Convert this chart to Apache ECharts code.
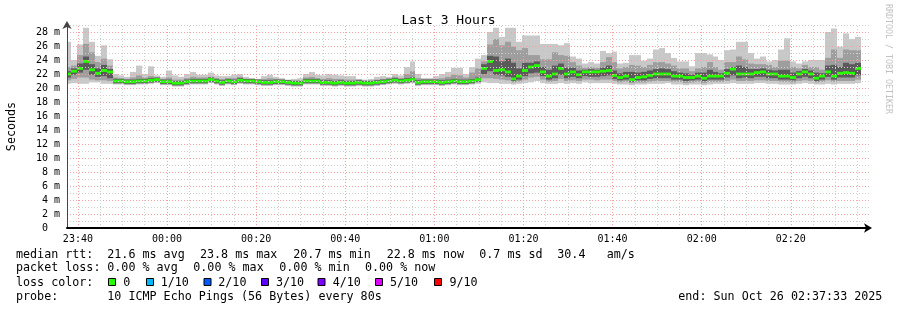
<!DOCTYPE html>
<html><head><meta charset="utf-8">
<script src="https://cdn.jsdelivr.net/npm/echarts@6/dist/echarts.min.js"></script>
<style>html,body{margin:0;padding:0;background:#fff}#c{width:897px;height:310px}</style>
</head><body><div id="c"></div>
<script>
// ---- time layout (seconds since window start 23:37:33) ----
const windowSpan = 10800;
const sampleStep = 80;
const firstSample = 13;
const tickTimes = [147,1347,2547,3747,4947,6147,7347,8547,9747];
const tickLabels = ['23:40','00:00','00:20','00:40','01:00','01:20','01:40','02:00','02:20'];
const minorGridStep = 300;

// ---- median rtt per sample (ms) ----
const median = [22.0,22.4,22.8,23.8,22.6,22.1,22.5,22.3,21.0,21.0,
 20.9,20.9,21.0,21.0,21.1,21.2,20.9,20.9,20.7,20.7,
 20.9,21.0,21.0,21.0,21.2,21.0,20.8,21.0,20.9,21.1,
 21.0,21.0,20.9,20.8,20.8,20.9,20.9,20.8,20.7,20.7,
 21.0,21.0,21.0,20.8,20.8,20.7,20.8,20.7,20.7,20.8,
 20.7,20.7,20.8,20.9,21.0,21.1,21.0,21.1,21.2,20.8,
 20.9,20.9,20.9,20.8,20.9,21.0,20.9,20.9,21.0,21.2,
 22.8,23.8,22.5,22.6,22.3,21.3,21.7,22.5,23.0,23.2,
 22.3,21.7,22.0,22.8,22.0,22.3,21.9,22.3,22.3,22.3,
 22.4,22.5,21.8,21.5,21.7,21.2,21.5,21.6,21.8,22.0,
 22.0,22.0,21.7,21.7,21.5,21.5,21.7,21.4,21.7,21.7,
 21.7,22.1,22.7,22.0,22.0,22.0,22.2,22.3,22.0,22.0,
 21.7,21.7,21.5,22.0,22.3,22.0,21.4,21.7,22.3,21.7,
 22.1,22.2,22.1,22.8];
// ---- smoke: sorted ping percentiles per sample (ms) ----
const pMin = [20.6,20.7,20.6,20.6,20.8,20.8,20.6,20.6,20.5,20.5,
 20.4,20.4,20.5,20.5,20.6,20.7,20.4,20.4,20.2,20.2,
 20.4,20.5,20.5,20.5,20.7,20.5,20.3,20.5,20.4,20.6,
 20.5,20.5,20.4,20.3,20.3,20.4,20.4,20.3,20.2,20.2,
 20.5,20.5,20.5,20.3,20.3,20.2,20.3,20.2,20.2,20.3,
 20.2,20.2,20.3,20.4,20.5,20.6,20.5,20.6,20.7,20.3,
 20.4,20.4,20.4,20.3,20.4,20.5,20.4,20.4,20.5,20.6,
 20.8,20.7,20.7,20.6,20.6,20.5,20.6,20.7,20.8,21.0,
 20.7,20.6,20.6,20.7,20.6,20.7,20.6,20.8,20.7,20.7,
 20.7,20.7,20.6,20.5,20.5,20.4,20.5,20.5,20.6,20.6,
 20.6,20.7,20.5,20.5,20.4,20.5,20.5,20.4,20.5,20.6,
 20.6,20.6,20.7,20.6,20.6,20.6,20.7,20.7,20.6,20.6,
 20.5,20.5,20.5,20.6,20.7,20.6,20.5,20.5,20.6,20.5,
 20.6,20.6,20.6,20.7];
const pLo = [21.1,21.3,21.5,21.5,21.2,21.1,21.1,21.0,20.6,20.6,
 20.5,20.5,20.6,20.6,20.7,20.8,20.5,20.5,20.3,20.3,
 20.5,20.6,20.6,20.6,20.8,20.6,20.4,20.6,20.5,20.7,
 20.6,20.6,20.5,20.4,20.4,20.5,20.5,20.4,20.3,20.3,
 20.6,20.6,20.6,20.4,20.4,20.3,20.4,20.3,20.3,20.4,
 20.3,20.3,20.4,20.5,20.6,20.7,20.6,20.7,20.8,20.4,
 20.5,20.5,20.5,20.4,20.5,20.6,20.5,20.5,20.6,20.8,
 21.4,21.4,21.3,21.2,21.1,20.8,20.9,21.2,21.5,21.6,
 21.2,20.9,21.0,21.3,21.0,21.1,21.0,21.2,21.2,21.1,
 21.2,21.2,21.0,20.8,20.9,20.7,20.8,20.8,20.9,21.0,
 21.0,21.0,20.9,20.9,20.7,20.8,20.9,20.7,20.9,20.9,
 20.9,21.0,21.2,21.0,21.0,21.0,21.1,21.1,21.0,21.0,
 20.9,20.9,20.8,21.0,21.1,21.0,20.8,20.9,21.1,20.9,
 21.0,21.0,21.0,21.2];
const pDarkLo = [21.5,21.9,22.2,22.6,21.9,21.6,21.7,21.4,20.7,20.7,
 20.6,20.6,20.7,20.7,20.8,20.9,20.6,20.6,20.4,20.4,
 20.6,20.7,20.7,20.7,20.9,20.7,20.5,20.7,20.6,20.8,
 20.7,20.7,20.6,20.5,20.5,20.6,20.6,20.5,20.4,20.4,
 20.7,20.7,20.7,20.5,20.5,20.4,20.5,20.4,20.4,20.5,
 20.4,20.4,20.5,20.6,20.7,20.8,20.7,20.8,20.9,20.5,
 20.6,20.6,20.6,20.5,20.6,20.7,20.6,20.6,20.7,20.9,
 22.0,22.4,21.9,21.8,21.6,21.0,21.2,21.7,22.1,22.2,
 21.7,21.2,21.4,21.9,21.4,21.6,21.4,21.7,21.6,21.6,
 21.7,21.8,21.3,21.1,21.2,20.9,21.1,21.1,21.3,21.4,
 21.4,21.4,21.2,21.2,21.0,21.1,21.2,21.0,21.2,21.2,
 21.2,21.5,21.8,21.4,21.5,21.4,21.6,21.6,21.4,21.4,
 21.2,21.2,21.1,21.4,21.6,21.4,21.0,21.2,21.6,21.2,
 21.5,21.5,21.5,21.8];
const pDarkHi = [22.4,22.8,23.5,24.5,23.4,22.8,23.3,22.7,21.3,21.3,
 21.2,21.2,21.3,21.3,21.4,21.5,21.2,21.2,21.0,21.0,
 21.2,21.3,21.3,21.3,21.5,21.3,21.1,21.3,21.2,21.4,
 21.3,21.3,21.2,21.1,21.1,21.2,21.2,21.1,21.0,21.0,
 21.3,21.3,21.3,21.1,21.1,21.0,21.1,21.0,21.0,21.1,
 21.0,21.0,21.1,21.2,21.3,21.4,21.3,21.4,21.5,21.1,
 21.2,21.2,21.2,21.1,21.2,21.3,21.2,21.2,21.3,21.5,
 23.4,24.6,24.5,23.8,24.2,23.6,22.8,23.6,23.6,23.8,
 23.0,22.6,23.2,23.5,22.9,22.9,22.5,22.6,22.7,22.6,
 22.9,23.2,22.5,22.1,22.3,22.3,22.2,22.3,22.5,22.7,
 22.8,22.7,22.4,22.2,22.1,21.9,22.2,22.2,22.6,22.3,
 22.1,22.7,23.0,23.2,23.0,22.7,22.7,22.8,22.6,22.5,
 22.6,22.6,22.2,22.4,22.7,22.5,22.2,22.1,23.2,23.3,
 23.0,23.6,23.4,23.6];
const pHi = [23.0,23.2,24.7,26.3,25.1,23.7,24.2,23.2,21.5,21.4,
 21.3,21.5,21.8,21.5,21.7,21.5,21.3,21.5,21.2,21.2,
 21.4,21.6,21.5,21.5,21.6,21.4,21.3,21.4,21.4,21.6,
 21.3,21.3,21.25,21.3,21.4,21.3,21.2,21.15,21.1,21.1,
 21.5,21.6,21.4,21.3,21.4,21.3,21.3,21.2,21.2,21.2,
 21.1,21.1,21.2,21.3,21.4,21.6,21.4,22.0,22.4,21.4,
 21.3,21.3,21.3,21.4,21.6,21.9,21.8,21.5,22.2,22.8,
 23.8,26.2,27.0,26.1,26.6,25.9,25.4,25.7,24.7,24.7,
 24.1,24.1,25.1,24.7,24.6,23.7,23.2,22.9,23.0,22.9,
 23.7,24.4,23.7,22.8,23.0,23.3,23.2,23.0,23.3,23.7,
 23.7,23.5,23.2,22.8,22.8,22.4,22.8,23.0,23.7,23.0,
 22.6,23.7,23.7,24.5,24.1,23.5,23.4,23.4,23.3,23.0,
 23.9,23.9,23.0,22.8,23.3,23.0,23.0,22.6,24.3,25.5,
 24.3,25.5,25.4,25.4];
const pMax = [26.6,24.0,26.2,28.6,26.6,24.6,26.1,24.1,22.0,21.8,
 21.6,22.3,23.2,22.0,23.1,21.8,21.6,22.5,21.8,21.6,
 22.0,22.3,21.9,21.9,22.2,21.8,21.7,21.7,21.9,22.0,
 21.6,21.4,21.3,21.7,21.9,21.6,21.4,21.2,21.3,21.4,
 22.0,22.3,21.9,21.8,22.0,21.9,21.8,21.7,21.7,21.3,
 21.2,21.3,21.6,21.7,21.6,22.0,21.8,23.0,23.8,22.0,
 21.4,21.4,21.7,22.0,22.3,22.9,22.9,22.0,23.0,24.2,
 24.7,28.0,28.6,27.3,28.6,28.6,26.6,27.5,27.5,27.5,
 26.3,26.3,26.3,26.1,26.4,24.5,24.2,23.5,23.7,23.5,
 25.3,25.0,25.2,23.5,23.6,24.7,24.7,23.9,24.2,25.5,
 25.7,25.0,24.3,23.8,23.8,23.1,25.0,25.0,24.8,24.5,
 24.0,25.4,25.5,26.6,26.6,25.0,24.2,24.5,23.8,24.0,
 25.5,27.1,23.8,23.5,23.8,24.0,24.0,24.0,28.0,28.5,
 25.9,27.8,27.0,27.3];

// ---- legend texts ----
const legendLines = [
  {y:254.5, parts:[[16,'median rtt:'],[107.3,'21.6 ms avg'],[200,'23.8 ms max'],[293.3,'20.7 ms min'],[386.7,'22.8 ms now'],[479.3,'0.7 ms sd'],[557.3,'30.4'],[606.7,'am/s']]},
  {y:268, parts:[[16,'packet loss:'],[107.3,'0.00 % avg'],[193.3,'0.00 % max'],[279.3,'0.00 % min'],[365,'0.00 % now']]},
  {y:282.5, parts:[[16,'loss color:'],[123.3,'0'],[160.7,'1/10'],[218.3,'2/10'],[276,'3/10'],[332.7,'4/10'],[390,'5/10'],[449.5,'9/10']]},
  {y:296.5, parts:[[16,'probe:'],[107.3,'10 ICMP Echo Pings (56 Bytes) every 80s'],[678.3,'end: Sun Oct 26 02:37:33 2025']]}
];
const lossColors = ['#26ff00','#00b8ff','#0059ff','#5e00ff','#7e00ff','#dd00ff','#ff0000'];
const lossBoxX = [109,147,204.5,262,318.5,376,435];

const MONO = 'DejaVu Sans Mono';
const C_LIGHT = '#c8c8c8', C_MID = '#9e9e9e', C_DARK = '#5a5a5a', C_GREEN = '#26ff00';
const medHalf = 0.2;

// one row per sample: [t, min, lo, darkLo, darkHi, hi, max, median]
const rows = median.map((m, k) => [firstSample + k * sampleStep, pMin[k], pLo[k], pDarkLo[k], pDarkHi[k], pHi[k], pMax[k], m]);

function renderSmoke(params, api) {
  const t = api.value(0);
  const x0 = Math.round(api.coord([t - sampleStep / 2, 0])[0]);
  const x1 = Math.round(api.coord([t + sampleStep / 2, 0])[0]);
  const cs = params.coordSys;
  const bands = [
    [api.value(1), api.value(6), C_LIGHT],
    [api.value(2), api.value(5), C_MID],
    [api.value(3), api.value(4), C_DARK],
    [api.value(7) - medHalf, api.value(7) + medHalf, C_GREEN]
  ];
  const children = [];
  bands.forEach(([lo, hi, color]) => {
    if (!(hi > lo)) return;
    const yTop = api.coord([t, hi])[1], yBot = api.coord([t, lo])[1];
    const shape = echarts.graphic.clipRectByRect(
      {x: x0, y: yTop, width: x1 - x0, height: yBot - yTop},
      {x: cs.x, y: cs.y, width: cs.width, height: cs.height});
    if (shape) children.push({type:'rect', shape, style:{fill: color}});
  });
  return {type:'group', children};
}

const gridLines = [];
for (let t = tickTimes[0]; t < windowSpan; t += minorGridStep) {
  const major = tickTimes.indexOf(t) >= 0;
  gridLines.push({xAxis: t, lineStyle: {color: major ? '#f3a0a0' : '#cfcfcf', type: [1, 2], width: 1}});
}

const graphics = [];
legendLines.forEach(line => line.parts.forEach(([x, text]) => {
  graphics.push({type:'text', x, y: line.y, silent:true,
    style:{text, fontFamily: MONO, fontSize: 11.7, fill:'#000', verticalAlign:'middle', textVerticalAlign:'middle'}});
}));
lossBoxX.forEach((x, i) => graphics.push({type:'rect', silent:true,
  shape:{x: x - 0.5, y: 278.5, width: 7, height: 7}, style:{fill: lossColors[i], stroke:'#000', lineWidth:1}}));
graphics.push({type:'text', x: 892, y: 4, rotation: -Math.PI/2, silent:true,
  style:{text:'RRDTOOL / TOBI OETIKER', fontFamily: MONO, fontSize: 8.3, fill:'#c2c2c2', verticalAlign:'top', textVerticalAlign:'top'}});

const chart = echarts.init(document.getElementById('c'), null, {renderer:'canvas'});
chart.setOption({
  backgroundColor:'#ffffff',
  animation:false,
  title:{text:'Last 3 Hours', left:'center', top:9, textStyle:{fontFamily:MONO, fontSize:13, fontWeight:'normal', color:'#000'}},
  grid:{left:67, right:28, top:25, bottom:82, containLabel:false, outerBoundsMode:'none'},
  xAxis:{type:'value', min:0, max:windowSpan, z:5,
    axisLine:{show:true, lineStyle:{color:'#000', width:2}, symbol:['none','arrow'], symbolSize:[7,8], symbolOffset:[0,3]},
    axisTick:{show:false}, splitLine:{show:false},
    axisLabel:{customValues: tickTimes, formatter: v => { const i = tickTimes.indexOf(v); return i >= 0 ? tickLabels[i] : ''; },
      fontFamily:MONO, fontSize:10, color:'#000', margin:6}},
  yAxis:{type:'value', min:0, max:29, interval:1, z:5,
    name:'Seconds', nameLocation:'middle', nameRotate:90, nameGap:49,
    nameTextStyle:{fontFamily:MONO, fontSize:11.7, color:'#000'},
    axisLine:{show:true, lineStyle:{color:'#444', width:1}, symbol:['none','arrow'], symbolSize:[7,8], symbolOffset:[0,4]},
    axisTick:{show:false},
    axisLabel:{formatter: v => (v % 2) ? '' : (v === 0 ? '0  ' : v + ' m'), fontFamily:MONO, fontSize:10, color:'#000', margin:7},
    splitLine:{show:true, lineStyle:{color:['#f3a0a0','#cfcfcf'], type:[1,2], width:1}}},
  series:[
    {type:'custom', name:'smoke', data: rows, renderItem: renderSmoke, silent:true, animation:false,
      encode:{x:0, y:[1,6]}, z:2},
    {type:'line', name:'grid', data: [], silent:true, animation:false, z:4,
      markLine:{silent:true, symbol:'none', animation:false, label:{show:false}, data: gridLines}}
  ],
  graphic: graphics
});
</script></body></html>
